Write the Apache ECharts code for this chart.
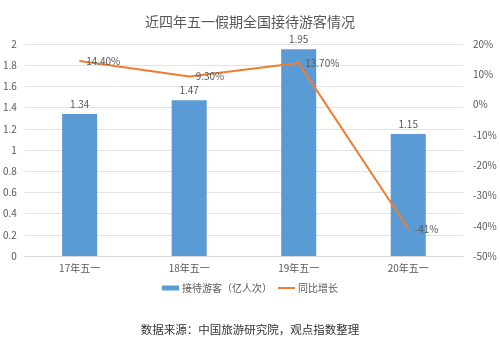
<!DOCTYPE html>
<html>
<head>
<meta charset="utf-8">
<script src="https://cdn.jsdelivr.net/npm/echarts@6/dist/echarts.min.js"></script>
<style>
  html, body { margin: 0; padding: 0; background: #fff; }
  #chart { width: 500px; height: 337px; }
</style>
</head>
<body>
<div id="chart"></div>
<script>
// 近四年五一假期接待游客数据
const categories = ['17年五一', '18年五一', '19年五一', '20年五一'];
const visitors = [1.34, 1.47, 1.95, 1.15];      // 接待游客（亿人次）
const yoyGrowth = [14.4, 9.3, 13.7, -41];       // 同比增长（%）
const yoyLabels = ['14.40%', '9.30%', '13.70%', '-41%'];

const textColor = '#595959';
const font = '"Microsoft YaHei", "Noto Sans CJK SC", sans-serif';

const chart = echarts.init(document.getElementById('chart'));
chart.setOption({
  backgroundColor: '#fff',
  animation: false,
  textStyle: { fontFamily: font },
  title: [
    {
      text: '近四年五一假期全国接待游客情况',
      left: 'center',
      top: 10,
      textStyle: { fontSize: 14, fontWeight: 'normal', color: textColor, fontFamily: font }
    },
    {
      text: '数据来源：中国旅游研究院，观点指数整理',
      left: 'center',
      top: 324,
      padding: 0,
      textStyle: { fontSize: 11.5, fontWeight: 'normal', color: '#333', fontFamily: font }
    }
  ],
  legend: {
    top: 278,
    left: 'center',
    itemWidth: 17,
    itemHeight: 5,
    itemGap: 6,
    textStyle: { fontSize: 10, color: textColor, padding: [0, 0, 0, -2] },
    data: [
      { name: '接待游客（亿人次）', icon: 'rect' },
      { name: '同比增长', icon: 'path://M0,4 L17,4 L17,6 L0,6 Z', itemStyle: { color: '#ED7D31' } }
    ]
  },
  grid: { left: 24, right: 37, top: 44, bottom: 81 },
  xAxis: {
    type: 'category',
    data: categories,
    axisLine: { show: true, lineStyle: { color: '#d9d9d9' } },
    axisTick: { show: false },
    axisLabel: { color: textColor, fontSize: 10, margin: 7 }
  },
  yAxis: [
    {
      type: 'value',
      min: 0,
      max: 2,
      interval: 0.2,
      axisLine: { show: false },
      axisTick: { show: false },
      axisLabel: { color: textColor, fontSize: 10, margin: 8, formatter: v => String(+v.toFixed(1)) },
      splitLine: { lineStyle: { color: '#e3e3e3' } }
    },
    {
      type: 'value',
      min: -50,
      max: 20,
      interval: 10,
      axisLine: { show: false },
      axisTick: { show: false },
      axisLabel: { color: textColor, fontSize: 10, margin: 10, formatter: '{value}%' },
      splitLine: { show: false }
    }
  ],
  series: [
    {
      name: '接待游客（亿人次）',
      type: 'bar',
      data: visitors,
      barWidth: '32%',
      itemStyle: { color: '#5B9BD5' },
      label: { show: true, position: 'top', color: textColor, fontSize: 10, distance: 5 }
    },
    {
      name: '同比增长',
      type: 'line',
      yAxisIndex: 1,
      data: yoyGrowth,
      symbol: 'circle',
      symbolSize: 1,
      lineStyle: { color: '#ED7D31', width: 2 },
      itemStyle: { color: '#ED7D31' },
      label: {
        show: true,
        position: 'right',
        distance: 6,
        color: textColor,
        fontSize: 10,
        formatter: p => yoyLabels[p.dataIndex]
      }
    }
  ]
});
</script>
</body>
</html>
